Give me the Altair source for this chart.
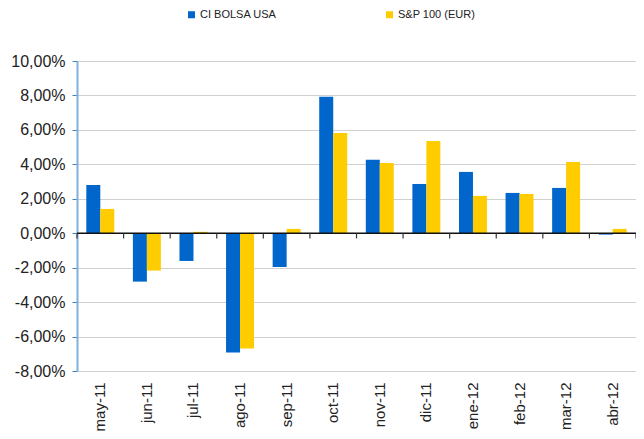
import altair as alt
import pandas as pd

months = ["may-11", "jun-11", "jul-11", "ago-11", "sep-11", "oct-11",
          "nov-11", "dic-11", "ene-12", "feb-12", "mar-12", "abr-12"]
series = ["CI BOLSA USA", "S&P 100 (EUR)"]
ci_bolsa = [2.80, -2.81, -1.61, -6.93, -1.96, 7.92, 4.26, 2.86, 3.56, 2.34, 2.63, -0.08]
sp100 = [1.41, -2.17, 0.08, -6.70, 0.25, 5.82, 4.08, 5.36, 2.17, 2.28, 4.14, 0.25]
y_ticks = [-0.08, -0.06, -0.04, -0.02, 0.0, 0.02, 0.04, 0.06, 0.08, 0.10]

rows = []
for m, a, b in zip(months, ci_bolsa, sp100):
    rows.append({"month": m, "series": series[0], "value": a / 100})
    rows.append({"month": m, "series": series[1], "value": b / 100})
df = pd.DataFrame(rows)

FONT = "Liberation Sans"
W, H = 559, 310
step = W / 12.0

x_scale = alt.Scale(domain=months, paddingInner=0.4, paddingOuter=0.2)
y_scale = alt.Scale(domain=[-0.08, 0.10], nice=False, zero=False)

x_axis = alt.Axis(title=None, labelAngle=-90, domain=False, ticks=False,
                  grid=False, labelFontSize=15, labelFont=FONT,
                  labelColor="#222222", labelPadding=11, labelOverlap=False)
y_axis = alt.Axis(title=None, values=y_ticks, labelOverlap=False,
                  labelExpr="(datum.value < -0.0001 ? '-' : '') + replace(format(abs(datum.value), '.2%'), '.', ',')",
                  gridColor="#d0d0d0", gridWidth=1.2,
                  domainColor="#7fb0e0", domainWidth=2,
                  tickColor="#3d85c6", tickSize=5,
                  labelFontSize=16, labelFont=FONT, labelColor="#222222",
                  labelPadding=7)

bars = alt.Chart(df).mark_bar(size=14).encode(
    x=alt.X("month:N", sort=months, scale=x_scale, axis=x_axis),
    xOffset=alt.XOffset("series:N", sort=series,
                        scale=alt.Scale(domain=series, paddingInner=0, paddingOuter=0)),
    y=alt.Y("value:Q", scale=y_scale, axis=y_axis),
    color=alt.Color("series:N",
                    scale=alt.Scale(domain=series, range=["#0066CC", "#FFCC00"]),
                    legend=alt.Legend(orient="none", legendX=109, legendY=-52,
                                      direction="horizontal", title=None,
                                      symbolType="square", symbolSize=49,
                                      symbolStrokeWidth=0, symbolOffset=0,
                                      labelFontSize=11, labelFont=FONT,
                                      labelColor="#222222", labelOffset=3,
                                      columnPadding=107)),
)

zero_line = alt.Chart(pd.DataFrame({"y": [0.0]})).mark_rule(
    color="#111111", strokeWidth=1.5).encode(y=alt.Y("y:Q", scale=y_scale, axis=y_axis))

tick_df = pd.DataFrame({"month": months, "y": [0.0] * 12, "y2": [-0.003] * 12})
boundary_ticks = alt.Chart(tick_df).mark_rule(
    color="#333333", strokeWidth=1.2, xOffset=-step / 2).encode(
    x=alt.X("month:N", sort=months, scale=x_scale, axis=x_axis),
    y=alt.Y("y:Q", scale=y_scale, axis=y_axis),
    y2="y2:Q",
)
end_tick = alt.Chart(tick_df.head(1)).mark_rule(
    color="#333333", strokeWidth=1.2).encode(
    x=alt.value(W),
    y=alt.Y("y:Q", scale=y_scale, axis=y_axis),
    y2="y2:Q",
)

chart = alt.layer(bars, zero_line, boundary_ticks, end_tick).properties(
    width=W, height=H,
    padding={"left": 69, "top": 53, "right": 0, "bottom": 60},
    autosize=alt.AutoSizeParams(type="none"),
).configure_view(strokeWidth=0).configure(background="white")

chart.save("out.html", embed_options={"renderer": "svg", "actions": False})
